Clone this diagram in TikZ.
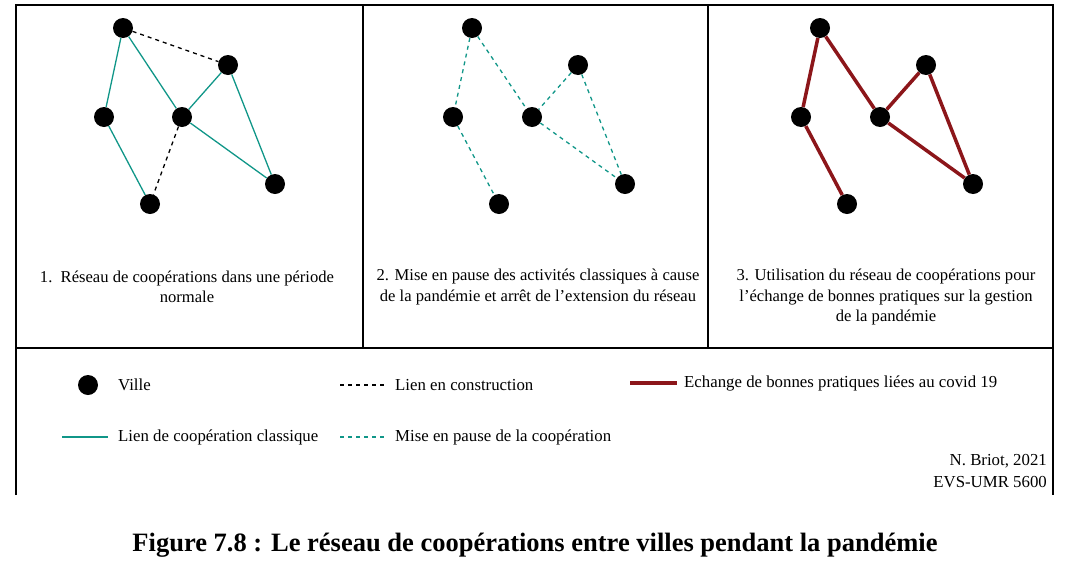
\documentclass[tikz,border=0pt]{standalone}
\usepackage{fontspec}
\setmainfont{Liberation Serif}
\definecolor{coopteal}{RGB}{16,150,136}
\definecolor{covidred}{RGB}{140,22,26}
\tikzset{
  ville/.style={circle, fill=black, inner sep=0pt, minimum size=20pt},
  classique/.style={coopteal, line width=1.3pt},
  enpause/.style={coopteal, line width=1.3pt, dash pattern=on 4pt off 4pt},
  construction/.style={black, line width=1.3pt, dash pattern=on 4pt off 4pt},
  echange/.style={covidred, line width=3.5pt},
  legtext/.style={anchor=west, inner sep=0pt, font=\fontsize{16.8}{19}\selectfont},
  paneltext/.style={align=center, inner sep=0pt, font=\fontsize{16.6}{20.5}\selectfont}
}
\begin{document}
\begin{tikzpicture}[x=1pt, y=-1pt]
    \useasboundingbox (0,0) rectangle (1068,568);
    % frame
    \draw [line width=1.2pt] (16,495) -- (16,5) -- (1053,5) -- (1053,495);
    \draw [line width=1.2pt] (16,348) -- (1053,348);
    \draw [line width=1.2pt] (363,5) -- (363,348);
    \draw [line width=1.2pt] (708,5) -- (708,348);

    % panel 1
    \node [ville] (a1) at (123,28) {};
    \node [ville] (b1) at (228,65) {};
    \node [ville] (c1) at (104,117) {};
    \node [ville] (d1) at (182,117) {};
    \node [ville] (e1) at (275,184) {};
    \node [ville] (f1) at (150,204) {};
    \draw [classique] (a1) -- (c1);
    \draw [classique] (a1) -- (d1);
    \draw [classique] (b1) -- (d1);
    \draw [classique] (b1) -- (e1);
    \draw [classique] (d1) -- (e1);
    \draw [classique] (c1) -- (f1);
    \draw [construction] (a1) -- (b1);
    \draw [construction] (d1) -- (f1);
    \node [paneltext] (t1) at (187,287) {1.\ \ Réseau de coopérations dans une période\\normale};

    % panel 2
    \node [ville] (a2) at (472,28) {};
    \node [ville] (b2) at (578,65) {};
    \node [ville] (c2) at (453,117) {};
    \node [ville] (d2) at (532,117) {};
    \node [ville] (e2) at (625,184) {};
    \node [ville] (f2) at (499,204) {};
    \draw [enpause] (a2) -- (c2);
    \draw [enpause] (a2) -- (d2);
    \draw [enpause] (b2) -- (d2);
    \draw [enpause] (b2) -- (e2);
    \draw [enpause] (d2) -- (e2);
    \draw [enpause] (c2) -- (f2);
    \node [paneltext] (t2) at (538,287) {2. Mise en pause des activités classiques à cause\\de la pandémie et arrêt de l'extension du réseau};

    % panel 3
    \node [ville] (a3) at (820,28) {};
    \node [ville] (b3) at (926,65) {};
    \node [ville] (c3) at (801,117) {};
    \node [ville] (d3) at (880,117) {};
    \node [ville] (e3) at (973,184) {};
    \node [ville] (f3) at (847,204) {};
    \draw [echange] (a3) -- (c3);
    \draw [echange] (a3) -- (d3);
    \draw [echange] (b3) -- (d3);
    \draw [echange] (b3) -- (e3);
    \draw [echange] (d3) -- (e3);
    \draw [echange] (c3) -- (f3);
    \node [paneltext] (t3) at (886,297) {3. Utilisation du réseau de coopérations pour\\l'échange de bonnes pratiques sur la gestion\\de la pandémie};

    % legend
    \node [ville] (lv) at (88,385) {};
    \node [legtext] (lvt) at (118,385) {Ville};
    \coordinate (lc1) at (340,385);
    \coordinate (lc2) at (384,385);
    \draw [construction] (lc1) -- (lc2);
    \node [legtext] (lct) at (395,385) {Lien en construction};
    \coordinate (le1) at (630,383);
    \coordinate (le2) at (677,383);
    \draw [echange] (le1) -- (le2);
    \node [legtext] (let) at (684,383) {Echange de bonnes pratiques liées au covid 19};
    \coordinate (ll1) at (62,437);
    \coordinate (ll2) at (108,437);
    \draw [classique] (ll1) -- (ll2);
    \node [legtext] (llt) at (118,437) {Lien de coopération classique};
    \coordinate (lp1) at (340,437);
    \coordinate (lp2) at (384,437);
    \draw [enpause] (lp1) -- (lp2);
    \node [legtext] (lpt) at (395,437) {Mise en pause de la coopération};
    \node [legtext, anchor=east] (auteur) at (1047,461) {N. Briot, 2021};
    \node [legtext, anchor=east] (labo) at (1047,482) {EVS-UMR 5600};

    % caption
    \node [font=\fontsize{26.5}{30}\selectfont\bfseries, inner sep=0pt] (titre) at (535,545) {Figure 7.8 : Le réseau de coopérations entre villes pendant la pandémie};
\end{tikzpicture}
\end{document}
